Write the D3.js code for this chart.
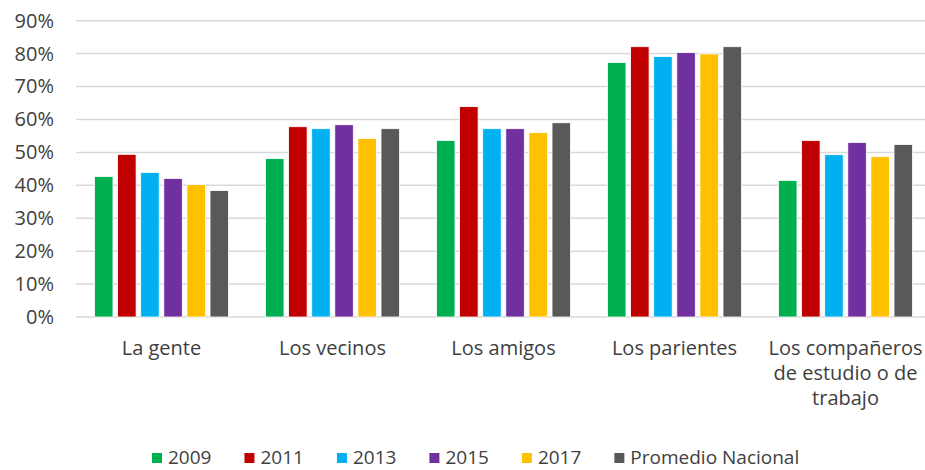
<!DOCTYPE html>
<html>
<head>
<meta charset="utf-8">
<script src="https://cdn.jsdelivr.net/npm/d3@7"></script>
<style>
  html, body { margin: 0; padding: 0; background: #fff; }
  svg text { font-family: "Open Sans", sans-serif; fill: #404040; }
</style>
</head>
<body>
<svg id="chart" width="925" height="470"></svg>
<script>
const categories = ["La gente", "Los vecinos", "Los amigos", "Los parientes", "Los compañeros de estudio o de trabajo"];
const seriesNames = ["2009", "2011", "2013", "2015", "2017", "Promedio Nacional"];
const seriesColors = ["#00B050", "#C00000", "#00B0F0", "#7030A0", "#FFC000", "#595959"];
const v2009 = [0.427, 0.481, 0.536, 0.773, 0.415];
const v2011 = [0.494, 0.578, 0.639, 0.821, 0.536];
const v2013 = [0.439, 0.572, 0.572, 0.791, 0.493];
const v2015 = [0.421, 0.584, 0.572, 0.803, 0.530];
const v2017 = [0.402, 0.542, 0.560, 0.799, 0.487];
const vProm = [0.384, 0.572, 0.590, 0.821, 0.524];
const yTicks = [0, 0.1, 0.2, 0.3, 0.4, 0.5, 0.6, 0.7, 0.8, 0.9];

const seriesValues = [v2009, v2011, v2013, v2015, v2017, vProm];

const svg = d3.select("#chart");
const y = d3.scaleLinear().domain([0, 0.9]).range([317, 20.7]);
const x0 = d3.scaleBand().domain(categories).range([76, 931]).paddingInner(0).paddingOuter(0);
const groupW = 134;
const x1 = d3.scaleBand().domain(seriesNames).range([0, groupW]).paddingInner(0.2).paddingOuter(0);

// gridlines
svg.append("g").selectAll("line").data(yTicks).join("line")
  .attr("x1", 76).attr("x2", 925)
  .attr("y1", d => y(d)).attr("y2", d => y(d))
  .attr("stroke", "#d9d9d9").attr("stroke-width", 1.5);

// y axis labels
const yAxis = d3.axisLeft(y).tickValues(yTicks).tickFormat(d3.format(".0%")).tickSize(0).tickPadding(0);
const ya = svg.append("g").attr("transform", "translate(54,0)").call(yAxis);
ya.select(".domain").remove();
ya.selectAll("text").style("font-size", "20px").attr("fill", "#404040").attr("font-family", "Open Sans");

// bars
const groups = svg.append("g").selectAll("g").data(categories).join("g")
  .attr("transform", d => `translate(${x0(d) + (x0.bandwidth() - groupW) / 2},0)`);
groups.selectAll("rect").data((c, ci) => seriesNames.map((s, si) => ({ s, si, v: seriesValues[si][ci] })))
  .join("rect")
  .attr("x", d => x1(d.s))
  .attr("width", x1.bandwidth())
  .attr("y", d => y(d.v))
  .attr("height", d => y(0) - y(d.v))
  .attr("fill", d => seriesColors[d.si])
  .attr("stroke", "#ffffff").attr("stroke-width", 0.8);

// category labels
const xAxis = d3.axisBottom(x0).tickSize(0).tickPadding(0);
const xa = svg.append("g").attr("transform", "translate(0,330)").call(xAxis);
xa.select(".domain").remove();
xa.selectAll("text").style("font-size", "20px").attr("fill", "#404040").attr("font-family", "Open Sans")
  .attr("dy", null).attr("y", 25)
  .each(function(d) {
    const t = d3.select(this);
    const words = d.split(" ");
    t.text(null);
    let line = [], lines = [];
    const tmp = t.append("tspan");
    words.forEach(w => {
      line.push(w);
      tmp.text(line.join(" "));
      if (tmp.node().getComputedTextLength() > 165 && line.length > 1) {
        line.pop();
        lines.push(line.join(" "));
        line = [w];
      }
    });
    lines.push(line.join(" "));
    tmp.remove();
    lines.forEach((l, i) => {
      t.append("tspan").attr("x", 0).attr("y", 25 + i * 25).text(l);
    });
  });

// legend
const legend = svg.append("g").attr("transform", "translate(152,457)");
let lx = 0;
seriesNames.forEach((s, i) => {
  const g = legend.append("g").attr("transform", `translate(${lx},0)`);
  g.append("rect").attr("x", 0).attr("y", -4).attr("width", 10).attr("height", 10).attr("fill", seriesColors[i]);
  const t = g.append("text").attr("x", 16).attr("y", 0).attr("dy", "0.35em")
    .style("font-size", "19px").text(s);
  lx += 16 + t.node().getComputedTextLength() + 33;
});
</script>
</body>
</html>
